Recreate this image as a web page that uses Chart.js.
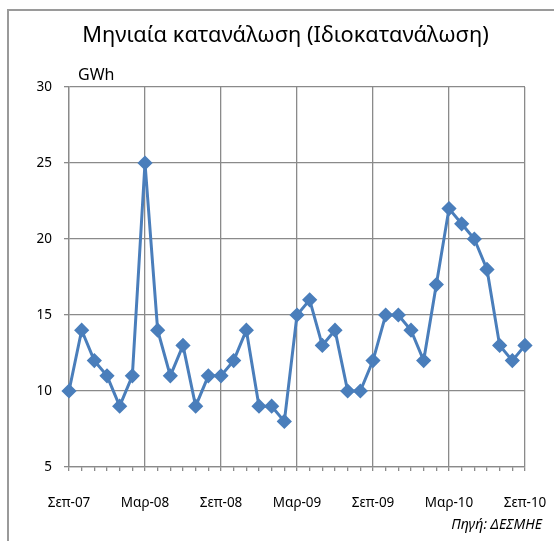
<!DOCTYPE html>
<html>
<head>
<meta charset="utf-8">
<script src="https://cdn.jsdelivr.net/npm/chart.js@4"></script>
<style>
  html, body { margin: 0; padding: 0; background: #fff; }
  #wrap { width: 554px; height: 541px; }
</style>
</head>
<body>
<div id="wrap"><canvas id="consumptionChart"></canvas></div>
<script>
// Monthly data, Sep-07 .. Sep-10
const months = ['Σεπ-07','Οκτ-07','Νοε-07','Δεκ-07','Ιαν-08','Φεβ-08','Μαρ-08','Απρ-08','Μαϊ-08','Ιουν-08','Ιουλ-08','Αυγ-08',
                'Σεπ-08','Οκτ-08','Νοε-08','Δεκ-08','Ιαν-09','Φεβ-09','Μαρ-09','Απρ-09','Μαϊ-09','Ιουν-09','Ιουλ-09','Αυγ-09',
                'Σεπ-09','Οκτ-09','Νοε-09','Δεκ-09','Ιαν-10','Φεβ-10','Μαρ-10','Απρ-10','Μαϊ-10','Ιουν-10','Ιουλ-10','Αυγ-10','Σεπ-10'];
const consumption = [10, 14, 12, 11, 9, 11, 25, 14, 11, 13, 9, 11,
                     11, 12, 14, 9, 9, 8, 15, 16, 13, 14, 10, 10,
                     12, 15, 15, 14, 12, 17, 22, 21, 20, 18, 13, 12, 13];
const yTicks = [5, 10, 15, 20, 25, 30];

const FONT = "'Noto Sans', 'DejaVu Sans', sans-serif";
const gridGray = '#8a8a8a';

// title, unit, source + outer frame
const extras = {
    id: 'extras',
    afterDraw(chart) {
        const c = chart.ctx;
        c.save();
        c.strokeStyle = '#9a9a9a';
        c.lineWidth = 2;
        c.beginPath();
        c.moveTo(8, 541);
        c.lineTo(8, 10);
        c.lineTo(554, 10);
        c.stroke();

        c.fillStyle = '#000';
        c.textBaseline = 'middle';
        c.textAlign = 'center';
        c.font = "21.8px " + FONT;
        c.fillText('Μηνιαία κατανάλωση (Ιδιοκατανάλωση)', 285.5, 36);

        c.font = "16px " + FONT;
        c.textAlign = 'left';
        c.fillText('GWh', 78, 75);

        c.font = "italic 14px " + FONT;
        c.textAlign = 'right';
        c.fillText('Πηγή: ΔΕΣΜΗΕ', 542, 525);
        c.restore();
    }
};

const ctx = document.getElementById('consumptionChart').getContext('2d');
const consumptionChart = new Chart(ctx, {
    type: 'line',
    data: {
        labels: months,
        datasets: [{
            label: 'Ιδιοκατανάλωση',
            data: consumption,
            borderColor: '#4a7ebb',
            backgroundColor: '#4a7ebb',
            borderWidth: 3,
            pointStyle: 'rectRot',
            pointRadius: 5.5,
            pointHoverRadius: 5.5,
            tension: 0,
            fill: false,
        }]
    },
    options: {
        responsive: true,
        maintainAspectRatio: false,
        animation: false,
        layout: { padding: { left: 0, right: 29, top: 87, bottom: 28 } },
        plugins: {
            legend: { display: false },
            tooltip: { enabled: false },
            title: { display: false }
        },
        scales: {
            x: {
                grid: {
                    color: (c) => (c.index % 6 === 0 ? gridGray : 'rgba(0,0,0,0)'),
                    tickColor: gridGray,
                    lineWidth: 1.3,
                    tickLength: 4,
                    offset: false,
                },
                border: { color: gridGray, width: 1.3 },
                ticks: {
                    autoSkip: false,
                    maxRotation: 0,
                    color: '#000',
                    padding: 24,
                    font: { family: FONT, size: 13.5 },
                    callback: (v, i) => (i % 6 === 0 ? months[i] : '')
                },
                afterFit: (s) => { s.height = 46; s.paddingLeft = 0; s.paddingRight = 0; }
            },
            y: {
                min: 5,
                max: 30,
                afterBuildTicks: (s) => { s.ticks = yTicks.map(v => ({ value: v })); },
                grid: { color: gridGray, lineWidth: 1.3, tickLength: 5 },
                border: { color: gridGray, width: 1.3 },
                ticks: {
                    color: '#000',
                    padding: 12,
                    font: { family: FONT, size: 13.5 }
                },
                afterFit: (s) => { s.width = 69; s.paddingTop = 0; s.paddingBottom = 0; }
            }
        }
    },
    plugins: [extras]
});
</script>
</body>
</html>
